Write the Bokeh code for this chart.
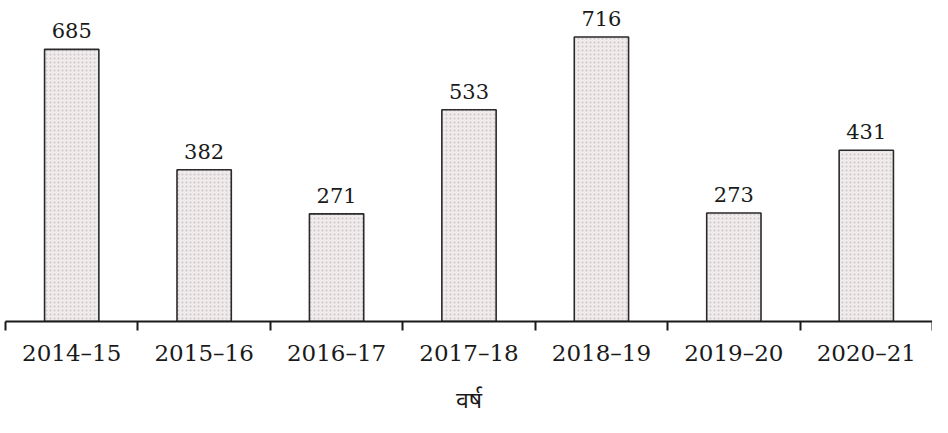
from bokeh.plotting import figure
from bokeh.models import ColumnDataSource, FixedTicker, Range1d
from bokeh.embed import file_html
from bokeh.resources import INLINE
from bokeh.core.properties import value

years = ["2014–15", "2015–16", "2016–17", "2017–18", "2018–19", "2019–20", "2020–21"]
counts = [685, 382, 271, 533, 716, 273, 431]
x_title = "वर्ष"

xs = [i + 0.5 for i in range(len(years))]
src = ColumnDataSource(dict(x=xs, top=counts, label=[str(c) for c in counts]))

p = figure(width=932, height=417, output_backend="svg", toolbar_location=None,
           x_range=Range1d(0, len(years)), y_range=Range1d(0, 808),
           min_border_left=5, min_border_right=0, min_border_top=0, min_border_bottom=90)
p.outline_line_color = None
p.grid.visible = False
p.yaxis.visible = False
p.background_fill_color = "white"

p.vbar(x="x", top="top", width=0.41, bottom=0, source=src,
       fill_color="#efebeb", line_color="#2a2a2a", line_width=1.6,
       hatch_pattern="dot", hatch_color="#cdc6cb", hatch_scale=4, hatch_weight=1.2)

p.text(x="x", y="top", text="label", source=src, text_align="center",
       text_baseline="bottom", y_offset=-11, text_font=value("DejaVu Serif"),
       text_font_size="21px", text_color="#1a1a1a")

ax = p.xaxis[0]
ax.ticker = FixedTicker(ticks=xs, minor_ticks=list(range(len(years) + 1)))
ax.major_label_overrides = {x: y for x, y in zip(xs, years)}
ax.major_tick_line_color = None
ax.major_tick_out = 0
ax.major_tick_in = 0
ax.minor_tick_line_color = "#1a1a1a"
ax.minor_tick_line_width = 2
ax.minor_tick_out = 9
ax.minor_tick_in = 0
ax.axis_line_color = "#1a1a1a"
ax.axis_line_width = 2.2
ax.major_label_text_font = "DejaVu Serif"
ax.major_label_text_font_size = "23px"
ax.major_label_text_color = "#1a1a1a"
ax.major_label_standoff = 9
ax.axis_label = x_title
ax.axis_label_text_font = "Noto Sans"
ax.axis_label_text_font_style = "normal"
ax.axis_label_text_font_size = "23px"
ax.axis_label_text_color = "#1a1a1a"
ax.axis_label_standoff = 14

open("out.html", "w").write(file_html(p, INLINE))
